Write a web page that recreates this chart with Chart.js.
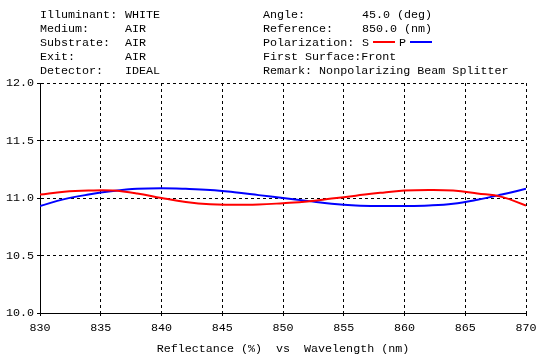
<!DOCTYPE html>
<html>
<head>
<meta charset="utf-8">
<script src="https://cdn.jsdelivr.net/npm/chart.js@4"></script>
<style>
  body { margin: 0; background: #fff; }
  #wrap { position: relative; width: 537px; height: 356px; }
  #head { position: absolute; left: 0; top: 0; font-family: "Liberation Mono", monospace; font-size: 11.7px; color: #000; }
  #head div { position: absolute; white-space: pre; line-height: 14px; }
  .seg { display: inline-block; width: 22px; height: 2px; vertical-align: middle; margin: 0 4px 2px 4px; }
</style>
</head>
<body>
<div id="wrap">
  <canvas id="myChart" width="537" height="356"></canvas>
  <div id="head"></div>
</div>
<script>
// wavelength samples (nm)
const wavelengths = [830, 832, 834, 836, 838, 840, 842, 844, 846, 848, 850,
                     852, 854, 856, 858, 860, 862, 864, 866, 868, 870];
// S polarization reflectance (%)
const sValues = [11.03, 11.055, 11.065, 11.065, 11.04, 11.00, 10.965, 10.945, 10.942, 10.943, 10.955,
                 10.97, 10.995, 11.02, 11.045, 11.065, 11.07, 11.065, 11.04, 11.01, 10.935];
// P polarization reflectance (%)
const pValues = [10.93, 10.99, 11.03, 11.06, 11.08, 11.085, 11.08, 11.07, 11.05, 11.025, 11.0,
                 10.975, 10.95, 10.935, 10.93, 10.93, 10.935, 10.95, 10.985, 11.03, 11.08];

const headerLeft = [
  ['Illuminant:', 'WHITE'],
  ['Medium:', 'AIR'],
  ['Substrate:', 'AIR'],
  ['Exit:', 'AIR'],
  ['Detector:', 'IDEAL']
];
const headerRight = [
  ['Angle:', '45.0 (deg)'],
  ['Reference:', '850.0 (nm)'],
  ['Polarization:', 'S'],
  ['First Surface:Front', ''],
  ['Remark: Nonpolarizing Beam Splitter', '']
];

// header text
const head = document.getElementById('head');
function addText(x, y, txt) {
  let d = document.createElement('div');
  d.style.left = x + 'px'; d.style.top = y + 'px';
  d.textContent = txt;
  head.appendChild(d);
  return d;
}
headerLeft.forEach((row, i) => {
  addText(40, 8 + i * 14, row[0]);
  addText(125, 8 + i * 14, row[1]);
});
headerRight.forEach((row, i) => {
  addText(263, 8 + i * 14, row[0]);
  if (row[1] === 'S') {
    let b = addText(362, 8 + i * 14, '');
    b.innerHTML = 'S<span class="seg" style="background:#f00"></span>P<span class="seg" style="background:#00f"></span>';
  } else if (row[1]) {
    addText(362, 8 + i * 14, row[1]);
  }
});

const font = { family: 'Liberation Mono', size: 11.7 };

var ctx = document.getElementById('myChart').getContext('2d');
var chart = new Chart(ctx, {
  type: 'line',
  data: {
    labels: wavelengths,
    datasets: [{
      label: 'S',
      data: wavelengths.map((w, i) => ({ x: w, y: sValues[i] })),
      borderColor: '#ff0000',
      borderWidth: 2,
      pointRadius: 0,
      tension: 0.4
    }, {
      label: 'P',
      data: wavelengths.map((w, i) => ({ x: w, y: pValues[i] })),
      borderColor: '#0000ff',
      borderWidth: 2,
      pointRadius: 0,
      tension: 0.4
    }]
  },
  options: {
    responsive: false,
    animation: false,
    layout: { padding: { top: 83, right: 11, left: 0, bottom: 0 } },
    plugins: { legend: { display: false }, tooltip: { enabled: false } },
    scales: {
      x: {
        type: 'linear',
        min: 830, max: 870,
        ticks: { stepSize: 5, color: '#000', font: font, padding: 5, maxRotation: 0 },
        grid: { color: '#000', tickLength: 3, tickColor: '#000' },
        border: { display: true, color: '#000', width: 1, dash: [3, 3] },
        title: { display: true, text: 'Reflectance (%)  vs  Wavelength (nm)', color: '#000', font: font, padding: { top: 10, bottom: 0 } },
        afterFit: s => { s.height = 43; s.paddingLeft = 0; s.paddingRight = 0; }
      },
      y: {
        min: 10, max: 12,
        ticks: { stepSize: 0.5, color: '#000', font: font, padding: 3, callback: v => v.toFixed(1) },
        grid: { color: '#000', tickLength: 3, tickColor: '#000' },
        border: { display: true, color: '#000', width: 1, dash: [3, 3] },
        afterFit: s => { s.width = 40; }
      }
    }
  }
});
</script>
</body>
</html>
